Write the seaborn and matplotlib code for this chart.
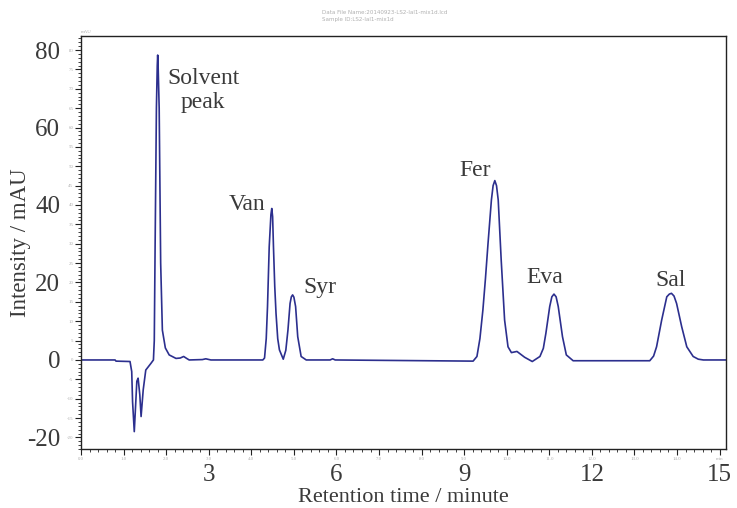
import numpy as np
import pandas as pd
import seaborn as sns
import matplotlib.pyplot as plt
from matplotlib.ticker import MultipleLocator, FixedLocator, FixedFormatter

# retention time (min) and intensity (mAU)
tiempo = [0.0, 0.80, 0.82, 1.15, 1.19, 1.21, 1.25, 1.28, 1.31, 1.34, 1.38, 1.41,
          1.46, 1.52, 1.64, 1.70, 1.72, 1.74, 1.77, 1.79, 1.80, 1.81, 1.835,
          1.87, 1.91, 1.98, 2.07, 2.23, 2.33, 2.41, 2.48, 2.54, 2.85, 2.93, 3.05,
          4.27, 4.31, 4.35, 4.38, 4.42, 4.46, 4.48, 4.50, 4.52, 4.55, 4.58, 4.62,
          4.66, 4.75, 4.81, 4.86, 4.91, 4.94, 4.97, 5.00, 5.04, 5.09, 5.17, 5.29,
          5.85, 5.91, 5.97,
          9.21, 9.30, 9.37, 9.44, 9.50, 9.56, 9.64, 9.68, 9.72, 9.76, 9.80, 9.87,
          9.95, 10.03, 10.11, 10.24, 10.42, 10.60, 10.78, 10.86, 10.92, 11.01,
          11.06, 11.11, 11.16, 11.21, 11.31, 11.40, 11.56,
          13.36, 13.45, 13.52, 13.64, 13.76, 13.82, 13.87, 13.93, 13.99, 14.11,
          14.23, 14.38, 14.50, 14.62, 15.15]
intensidade = [0.0, 0.0, -0.3, -0.4, -3.0, -10.8, -18.5, -12.0, -5.5, -4.7, -9.0, -14.6,
               -7.7, -2.6, -0.9, 0.0, 5.0, 30.0, 65.0, 76.0, 78.7, 76.0, 65.0,
               25.0, 7.7, 3.1, 1.3, 0.4, 0.5, 0.9, 0.4, 0.0, 0.1, 0.3, 0.0,
               0.0, 0.5, 5.5, 13.8, 29.2, 37.5, 39.1, 37.0, 29.2, 19.0, 12.0, 5.5,
               2.6, 0.2, 2.5, 7.7, 14.6, 16.3, 16.8, 16.2, 13.8, 6.0, 0.9, 0.0,
               0.0, 0.3, 0.0,
               -0.3, 0.9, 5.5, 12.9, 21.0, 30.0, 41.3, 45.0, 46.3, 45.0, 41.3, 25.8,
               10.3, 3.4, 1.9, 2.2, 0.7, -0.4, 0.9, 3.0, 6.9, 13.8,
               16.3, 17.0, 16.3, 13.8, 6.0, 1.3, -0.2,
               -0.2, 1.0, 3.4, 10.3, 16.3, 17.0, 17.2, 16.5, 14.6, 8.6,
               3.4, 0.9, 0.2, 0.0, 0.0]

picos = ["Solvent\npeak", "Van", "Syr", "Fer", "Eva", "Sal"]
picos_t = [2.87, 3.91, 5.60, 9.25, 10.89, 13.86]
picos_v = [69.5, 40.0, 18.8, 49.0, 21.2, 20.6]

ticks_grandes_x = [3, 6, 9, 12, 15]
ticks_grandes_y = [-20, 0, 20, 40, 60, 80]
rotulos_pequenos_x = ["%.1f" % i for i in range(15)] + ["min"]

df = pd.DataFrame({"tempo": tiempo, "intensidade": intensidade})

sns.set_style("ticks")
plt.rcParams["font.family"] = ["Liberation Serif", "DejaVu Serif"]
plt.rcParams["axes.unicode_minus"] = False
COR_TEXTO = "#3a3a3a"
COR_LINHA = "#2c2f8e"
COR_FRACA = "#b0b0b0"

fig = plt.figure(figsize=(7.37, 5.08), dpi=100)
ax = fig.add_axes([0.110, 0.116, 0.875, 0.813])

sns.lineplot(data=df, x="tempo", y="intensidade", ax=ax, color=COR_LINHA,
             linewidth=1.2, sort=False)

ax.set_xlim(0, 15.15)
ax.set_ylim(-23, 83.6)

# faint instrument ticks
ax.xaxis.set_major_locator(FixedLocator(list(range(16))))
ax.xaxis.set_major_formatter(FixedFormatter(rotulos_pequenos_x))
ax.xaxis.set_minor_locator(MultipleLocator(0.2))
ax.yaxis.set_major_locator(MultipleLocator(5))
ax.yaxis.set_minor_locator(MultipleLocator(1))
ax.tick_params(which="major", length=4, width=0.8, labelsize=3.5,
               labelcolor=COR_FRACA, pad=1.5, color="#222222")
ax.tick_params(which="minor", length=2.5, width=0.6, color="#222222")
for s in ax.spines.values():
    s.set_color("#222222")
    s.set_linewidth(1.0)

# big labels
secx = ax.secondary_xaxis("bottom")
secx.set_xticks(ticks_grandes_x)
secx.tick_params(length=0, pad=11, labelsize=18, labelcolor=COR_TEXTO)
secx.spines["bottom"].set_visible(False)
secy = ax.secondary_yaxis("left")
secy.set_yticks(ticks_grandes_y)
secy.tick_params(length=0, pad=15, labelsize=18, labelcolor=COR_TEXTO)
secy.spines["left"].set_visible(False)

ax.set_xlabel("Retention time / minute", fontsize=16, color=COR_TEXTO)
ax.set_ylabel("Intensity / mAU", fontsize=16.5, color=COR_TEXTO)
ax.xaxis.set_label_coords(0.5, -0.094)
ax.yaxis.set_label_coords(-0.078, 0.5)

for nome, t, v in zip(picos, picos_t, picos_v):
    ax.text(t, v, nome, ha="center", va="center", fontsize=17,
            color=COR_TEXTO, linespacing=1.15)

ax.text(0.0, 1.005, "mAU", transform=ax.transAxes, fontsize=3.5,
        color=COR_FRACA, ha="left", va="bottom")
fig.text(322 / 737, 1 - 12 / 508, "Data File Name:20140923-LS2-lal1-mix1d.lcd",
         fontsize=4, color=COR_FRACA, family="DejaVu Sans", va="center")
fig.text(322 / 737, 1 - 20 / 508, "Sample ID:LS2-lal1-mix1d",
         fontsize=4, color=COR_FRACA, family="DejaVu Sans", va="center")

fig.savefig("out.png", dpi=100)
